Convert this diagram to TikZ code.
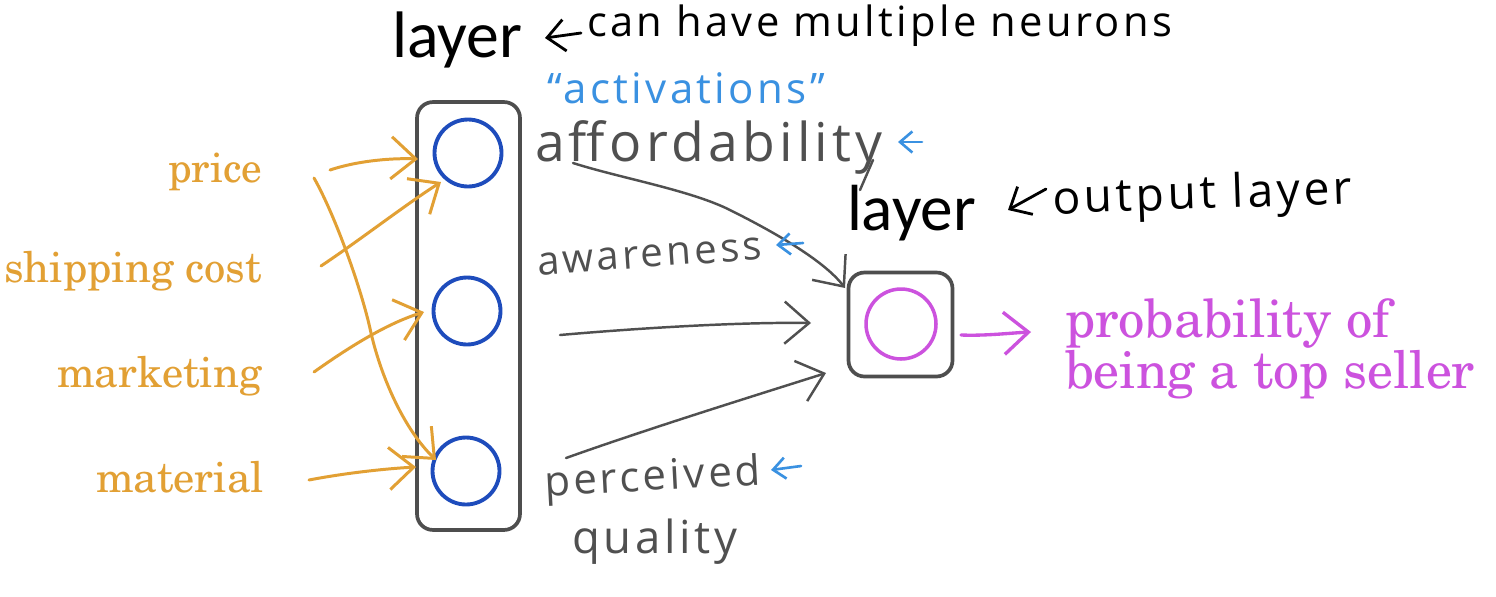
\documentclass[tikz,border=0pt]{standalone}
\usepackage[T1]{fontenc}
\usepackage{fontspec}
\usepackage{graphicx}
\usetikzlibrary{arrows.meta}
\newfontfamily\handfont[LetterSpace=8]{Open Sans}
\newfontfamily\labelfont{Carlito}
\newcommand\schoolbook{\fontencoding{T1}\fontfamily{pnc}\selectfont}
\newcommand\fitw[2]{\resizebox{#1}{!}{#2}}
\definecolor{inorange}{RGB}{226,160,52}
\definecolor{nblue}{RGB}{30,76,188}
\definecolor{outmag}{RGB}{204,82,222}
\definecolor{boxgrey}{RGB}{78,78,78}
\definecolor{handgrey}{RGB}{80,80,80}
\definecolor{noteblue}{RGB}{58,145,225}
\begin{document}
\begin{tikzpicture}[x=0.02cm,y=-0.02cm,
  txt/.style={inner sep=0pt,outer sep=0pt},
  layerbox/.style={draw=boxgrey,line width=2.1pt,rounded corners=0.32cm,inner sep=0pt},
  neuron/.style={circle,draw=nblue,line width=2.2pt,minimum size=1.34cm,inner sep=0pt},
  outneuron/.style={circle,draw=outmag,line width=2pt,minimum size=1.40cm,inner sep=0pt},
  barb/.style={-{Straight Barb[length=14pt,width=24pt]}},
  inarrow/.style={barb,draw=inorange,line width=1.7pt,line cap=round,line join=round},
  hidarrow/.style={barb,draw=handgrey,line width=1.4pt,line cap=round,line join=round},
  outarrow/.style={barb,draw=outmag,line width=1.9pt,line cap=round,line join=round},
  smallblue/.style={-{Straight Barb[length=7pt,width=12pt]},draw=noteblue,line width=1.5pt,line cap=round,line join=round},
  blackarrow/.style={-{Straight Barb[length=10pt,width=18pt]},draw=black,line width=1.6pt,line cap=round,line join=round}]
\useasboundingbox[fill=white] (0,0) rectangle (1496,596);

% boxes and neurons
\node[layerbox,minimum width=2.06cm,minimum height=8.56cm] (hbox) at (468.5,316) {};
\node[neuron] (h1) at (468,153) {};
\node[neuron] (h2) at (467,311) {};
\node[neuron] (h3) at (466,471) {};
\node[layerbox,minimum width=2.08cm,minimum height=2.08cm] (obox) at (900.5,324.5) {};
\node[outneuron] (o1) at (901,324) {};

% input labels
\node[txt,anchor=base east,text=inorange] (price) at (262,182) {\fitw{1.88cm}{\schoolbook price}};
\node[txt,anchor=base east,text=inorange] (ship) at (262,282) {\fitw{5.16cm}{\schoolbook shipping cost}};
\node[txt,anchor=base east,text=inorange] (mkt) at (262,387) {\fitw{4.10cm}{\schoolbook marketing}};
\node[txt,anchor=base east,text=inorange] (mat) at (264,492) {\fitw{3.36cm}{\schoolbook material}};

% output label
\node[txt,anchor=base west,text=outmag] (prob1) at (1065,337) {\fitw{6.5cm}{\schoolbook probability of}};
\node[txt,anchor=base west,text=outmag] (prob2) at (1065,388) {\fitw{8.2cm}{\schoolbook being a top seller}};

% layer labels
\node[txt,anchor=base west] (layer1) at (392,57) {\fitw{2.6cm}{\labelfont layer}};
\node[txt,anchor=base west] (layer2) at (847,230) {\fitw{2.58cm}{\labelfont layer}};
\node[txt,anchor=base west] (multi) at (587,36) {\fitw{11.7cm}{\handfont can have multiple neurons}};
\node[txt,anchor=base west,rotate=2] (outl) at (1053,214) {\fitw{6.0cm}{\handfont output layer}};
\node[txt,anchor=base west,text=noteblue] (act) at (547,103) {\fitw{5.56cm}{\handfont “activations”}};

% activation names
\node[txt,anchor=base west,text=handgrey] (aff) at (535,161) {\fitw{6.96cm}{\handfont affordability}};
\node[txt,anchor=base west,text=handgrey,rotate=4] (awa) at (538,275) {\fitw{4.5cm}{\handfont awareness}};
\node[txt,anchor=base west,text=handgrey,rotate=3] (perc) at (545,496) {\fitw{4.34cm}{\handfont perceived}};
\node[txt,anchor=base west,text=handgrey] (qual) at (572,553) {\fitw{3.3cm}{\handfont quality}};

% coordinates for free ends
\coordinate (pS) at (330,170);
\coordinate (pE) at (418,159);
\coordinate (sS) at (321,266);
\coordinate (sE) at (441,182);
\coordinate (mS) at (314,372);
\coordinate (mE) at (424,312);
\coordinate (tS) at (309,480);
\coordinate (tE) at (416,467);
\coordinate (xS) at (314,178);
\coordinate (xM) at (371,333);
\coordinate (xE) at (436,460);

% input arrows
\draw[inarrow] (pS) .. controls (360,160) and (395,158) .. (pE);
\draw[inarrow] (sS) .. controls (360,240) and (405,205) .. (sE);
\draw[inarrow] (mS) .. controls (345,350) and (385,324) .. (mE);
\draw[inarrow] (tS) .. controls (340,474) and (380,469) .. (tE);
\draw[inarrow] (xS) .. controls (335,215) and (362,290) .. (xM) .. controls (382,380) and (405,430) .. (xE);

% hidden to output arrows
\coordinate (aS) at (573,163);
\coordinate (aM) at (730,210);
\coordinate (aE) at (845,288);
\coordinate (bS) at (560,335);
\coordinate (bE) at (811,323);
\coordinate (cS) at (566,458);
\coordinate (cE) at (826,373);
\draw[hidarrow] (aS) .. controls (620,178) and (690,190) .. (aM) .. controls (780,235) and (825,262) .. (aE);
\draw[hidarrow] (bS) .. controls (640,328) and (740,322) .. (bE);
\draw[hidarrow] (cS) .. controls (650,428) and (760,394) .. (cE);

% output arrow
\coordinate (oS) at (961,335);
\coordinate (oE) at (1031,332);
\draw[outarrow] (oS) .. controls (985,336) and (1010,333) .. (oE);

% tail of the y in affordability
\coordinate (yT1) at (873,160);
\coordinate (yT2) at (860,190);
\draw[handgrey,line width=1.4pt,line cap=round] (yT1) -- (yT2);

% small blue arrows
\coordinate (ba1) at (922,142);
\coordinate (ba2) at (898,142);
\coordinate (bw1) at (803,243);
\coordinate (bw2) at (776,245);
\coordinate (bp1) at (801,466);
\coordinate (bp2) at (771,470);
\draw[smallblue] (ba1) -- (ba2);
\draw[smallblue] (bw1) -- (bw2);
\draw[smallblue] (bp1) -- (bp2);

% black pointer arrows
\coordinate (k1) at (581,33);
\coordinate (k2) at (545,38);
\coordinate (k3) at (1046,189);
\coordinate (k4) at (1008,210);
\draw[blackarrow] (k1) -- (k2);
\draw[blackarrow] (k3) -- (k4);
\end{tikzpicture}
\end{document}
